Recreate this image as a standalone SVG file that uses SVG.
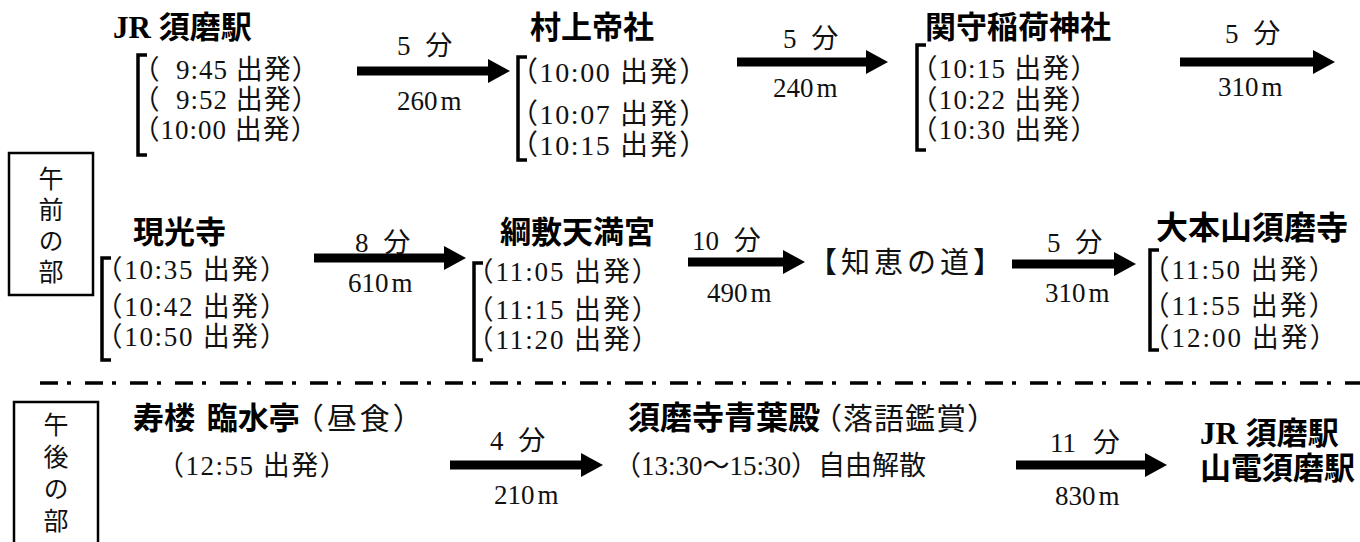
<svg xmlns="http://www.w3.org/2000/svg" width="1360" height="542" viewBox="0 0 1360 542">
<defs>
<style>
text{text-spacing-trim:space-all}
.t{font-family:"Liberation Serif","Noto Sans CJK JP",serif;font-size:27px;letter-spacing:1px;fill:#111;font-feature-settings:"halt"}
.l{font-family:"Liberation Serif","Noto Sans CJK JP",serif;font-size:27px;fill:#111}
.n{font-family:"Liberation Serif","Noto Sans CJK JP",sans-serif;font-size:31px;font-weight:700;fill:#000}
.v{font-family:"Noto Sans CJK JP",serif;font-size:25px;fill:#111;writing-mode:vertical-rl}
.br{fill:none;stroke:#000;stroke-width:3.5}
.box{fill:none;stroke:#000;stroke-width:2.5}
.ar{stroke:#000;stroke-width:9}
.sep{stroke:#000;stroke-width:3.5;stroke-dasharray:18 9 4 14}
</style>
<marker id="ah" markerUnits="userSpaceOnUse" markerWidth="22" markerHeight="24" refX="0" refY="12" orient="auto">
<path d="M0,0 L22,12 L0,24 z" fill="#000"/>
</marker>
</defs>

<g id="box-am">
<rect class="box" x="9" y="153" width="84" height="142"/>
<text class="v" x="51" y="166" style="letter-spacing:6px">午前の部</text>
</g>

<g id="box-pm">
<rect class="box" x="14" y="402" width="84" height="150"/>
<text class="v" x="56" y="412" style="letter-spacing:7px">午後の部</text>
</g>

<line id="separator" class="sep" x1="40" y1="383" x2="1360" y2="383"/>

<g id="node-jr">
<text class="n" x="113" y="38">JR 須磨駅</text>
<path class="br" d="M147,55 H138 V155 H147"/>
<text class="t" x="146" y="79" style="white-space:pre">（  9:45 出発）</text>
<text class="t" x="146" y="109" style="white-space:pre">（  9:52 出発）</text>
<text class="t" x="146" y="139">（10:00 出発）</text>
</g>

<g id="node-murakami">
<text class="n" x="530" y="38">村上帝社</text>
<path class="br" d="M527,57 H518 V160 H527"/>
<text class="t" x="524" y="82" style="font-size:28px;letter-spacing:1.6px">（10:00 出発）</text>
<text class="t" x="524" y="124" style="font-size:28px;letter-spacing:1.6px">（10:07 出発）</text>
<text class="t" x="524" y="155" style="font-size:28px;letter-spacing:1.6px">（10:15 出発）</text>
</g>

<g id="node-sekimori">
<text class="n" x="925" y="38">関守稲荷神社</text>
<path class="br" d="M926,45 H917 V150 H926"/>
<text class="t" x="924" y="78" style="letter-spacing:1.2px">（10:15 出発）</text>
<text class="t" x="924" y="109" style="letter-spacing:1.2px">（10:22 出発）</text>
<text class="t" x="924" y="139" style="letter-spacing:1.2px">（10:30 出発）</text>
</g>

<g id="node-genkoji">
<text class="n" x="133" y="243">現光寺</text>
<path class="br" d="M111,258 H102 V360 H111"/>
<text class="t" x="109" y="279" style="letter-spacing:1.7px">（10:35 出発）</text>
<text class="t" x="109" y="316" style="letter-spacing:1.7px">（10:42 出発）</text>
<text class="t" x="109" y="346" style="letter-spacing:1.7px">（10:50 出発）</text>
</g>

<g id="node-tsunashiki">
<text class="n" x="500" y="243">綱敷天満宮</text>
<path class="br" d="M483,263 H474 V360 H483"/>
<text class="t" x="480" y="281" style="letter-spacing:1.9px">（11:05 出発）</text>
<text class="t" x="480" y="319" style="letter-spacing:1.9px">（11:15 出発）</text>
<text class="t" x="480" y="349" style="letter-spacing:1.9px">（11:20 出発）</text>
</g>

<g id="node-chie">
<text class="l" x="808" y="273" style="font-size:29px;letter-spacing:4px">【知恵の道】</text>
</g>

<g id="node-sumadera">
<text class="n" x="1156" y="239" style="font-size:32px">大本山須磨寺</text>
<path class="br" d="M1159,250 H1150 V350 H1159"/>
<text class="t" x="1156" y="279" style="letter-spacing:2px">（11:50 出発）</text>
<text class="t" x="1156" y="315" style="letter-spacing:2px">（11:55 出発）</text>
<text class="t" x="1156" y="347" style="letter-spacing:2px">（12:00 出発）</text>
</g>

<g id="node-rinsuitei">
<text x="133" y="429"><tspan class="n">寿楼 </tspan><tspan class="n" dx="4">臨水亭</tspan><tspan class="l" dx="-6" style="font-size:30px;letter-spacing:3px">（昼食）</tspan></text>
<text class="l" x="157" y="475" style="letter-spacing:1.5px">（12:55 出発）</text>
</g>

<g id="node-seiyoden">
<text x="628" y="429"><tspan class="n" style="font-size:32px">須磨寺青葉殿</tspan><tspan class="l" dx="-8" style="font-size:30px;letter-spacing:1px">（落語鑑賞）</tspan></text>
<text class="l" x="614" y="475">（13:30～15:30）自由解散</text>
</g>

<g id="node-goal">
<text class="n" x="1200" y="444">JR 須磨駅</text>
<text class="n" x="1200" y="479">山電須磨駅</text>
</g>

<g id="connectors">
<line class="ar" x1="357" y1="71" x2="488" y2="71" marker-end="url(#ah)"/>
<text class="l" x="397" y="55">5<tspan dx="8"> 分</tspan></text>
<text class="l" x="397" y="110">260<tspan dx="3">m</tspan></text>

<line class="ar" x1="737" y1="62" x2="866" y2="62" marker-end="url(#ah)"/>
<text class="l" x="783" y="48">5<tspan dx="8"> 分</tspan></text>
<text class="l" x="773" y="97">240<tspan dx="3">m</tspan></text>

<line class="ar" x1="1180" y1="62" x2="1313" y2="62" marker-end="url(#ah)"/>
<text class="l" x="1225" y="43">5<tspan dx="8"> 分</tspan></text>
<text class="l" x="1218" y="96">310<tspan dx="3">m</tspan></text>

<line class="ar" x1="314" y1="258" x2="444" y2="258" marker-end="url(#ah)"/>
<text class="l" x="355" y="252">8<tspan dx="8"> 分</tspan></text>
<text class="l" x="348" y="292">610<tspan dx="3">m</tspan></text>

<line class="ar" x1="688" y1="262" x2="783" y2="262" marker-end="url(#ah)"/>
<text class="l" x="692" y="250">10<tspan dx="8"> 分</tspan></text>
<text class="l" x="707" y="302">490<tspan dx="3">m</tspan></text>

<line class="ar" x1="1012" y1="264" x2="1114" y2="264" marker-end="url(#ah)"/>
<text class="l" x="1047" y="252">5<tspan dx="8"> 分</tspan></text>
<text class="l" x="1045" y="302">310<tspan dx="3">m</tspan></text>

<line class="ar" x1="450" y1="465" x2="581" y2="465" marker-end="url(#ah)"/>
<text class="l" x="490" y="450">4<tspan dx="8"> 分</tspan></text>
<text class="l" x="494" y="504">210<tspan dx="3">m</tspan></text>

<line class="ar" x1="1016" y1="465" x2="1145" y2="465" marker-end="url(#ah)"/>
<text class="l" x="1050" y="452">11<tspan dx="10"> 分</tspan></text>
<text class="l" x="1055" y="505">830<tspan dx="3">m</tspan></text>
</g>
</svg>
